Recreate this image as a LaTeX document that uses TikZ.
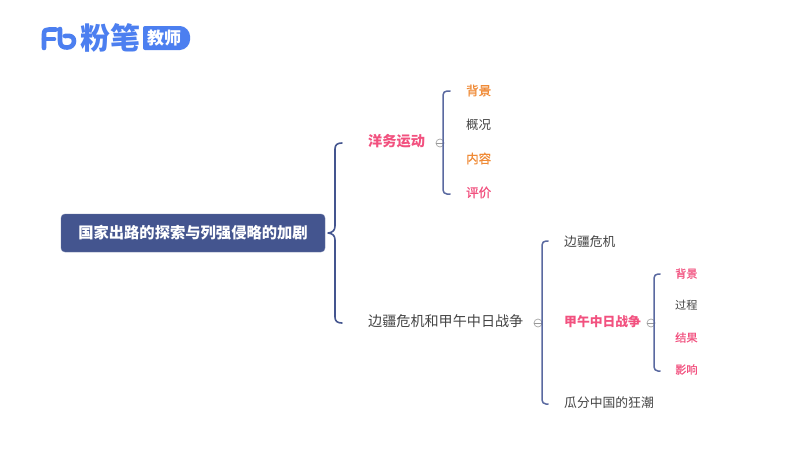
\documentclass[tikz,border=0pt]{standalone}
\usepackage{fontspec}
\setmainfont{Noto Sans CJK SC}
\newfontfamily\cjk{Noto Sans CJK SC}
\newfontfamily\cjkm[FakeBold=0.7]{Noto Sans CJK SC}
\definecolor{navy}{HTML}{44558F}
\definecolor{brc}{HTML}{5A69A0}
\definecolor{pinkc}{HTML}{F2517F}
\definecolor{orangec}{HTML}{F08A35}
\definecolor{darkc}{HTML}{444444}
\definecolor{logoc}{HTML}{4C7FF0}
\tikzset{
  x=1pt,y=-1pt,
  txt/.style={inner sep=0pt,anchor=west,font=\cjk\fontsize{#1}{#1}\selectfont},
  txtm/.style={inner sep=0pt,anchor=west,font=\cjkm\fontsize{#1}{#1}\selectfont},
  txtb/.style={inner sep=0pt,anchor=west,font=\cjk\bfseries\fontsize{#1}{#1}\selectfont},
  brace/.style={draw=brc,line width=1.5pt,line cap=round,rounded corners=4pt},
  rootbrace/.style={draw=navy,line width=1.6pt,line cap=round},
  fold/.style={circle,draw=gray!70,fill=white,line width=0.7pt,minimum size=8pt,inner sep=0pt},
  foldbar/.style={draw=gray!80,line width=0.6pt},
  logostroke/.style={draw=logoc,line width=4.6pt,line cap=round,line join=round},
}
\begin{document}
\begin{tikzpicture}
\useasboundingbox (0,0) rectangle (800,450);
\fill[white] (0,0) rectangle (800,450);
% logo
\draw[logostroke] (44,48) -- (44,34) .. controls (44,30) and (46,29.5) .. (49,29.5) -- (56,29.5);
\draw[logostroke] (44,39) -- (54,39);
\draw[logostroke] (60,29) -- (60,41) .. controls (60,46) and (63,47.5) .. (67,47.5) .. controls (71,47.5) and (74,45) .. (74,41) .. controls (74,37) and (71,35) .. (65,36);
\node[inner sep=0pt,text=logoc,font=\cjk\bfseries\fontsize{30}{30}\selectfont] (logotext) at (110,38) {粉笔};
\fill[logoc,rounded corners=2pt] (143,26) -- (178,26) .. controls (186,26) and (190,32) .. (190,38) .. controls (190,44) and (186,50) .. (178,50) -- (143,50) -- cycle;
\node[inner sep=0pt,text=white,font=\cjk\bfseries\fontsize{17}{17}\selectfont] (logotag) at (164,38) {教师};
% root
\node[fill=navy,draw=navy!80!white,rounded corners=4pt,minimum width=264pt,minimum height=38pt,inner sep=0pt,text=white,font=\cjk\bfseries\fontsize{15.3}{15.3}\selectfont] (root) at (193,233) {国家出路的探索与列强侵略的加剧};
% level 1
\node[txtb=14.2,text=pinkc] (yw) at (368,141.5) {洋务运动};
\node[txt=14.1,text=darkc] (bj) at (368,321.5) {边疆危机和甲午中日战争};
% yangwu leaves
\node[txtm=12.5,text=orangec] (a1) at (466,90.5) {背景};
\node[txt=12.5,text=darkc] (a2) at (466,124.5) {概况};
\node[txtm=12.5,text=orangec] (a3) at (466,158.5) {内容};
\node[txtm=12.5,text=pinkc] (a4) at (466,192.5) {评价};
% level 2
\node[txt=12.8,text=darkc] (b1) at (564,241.5) {边疆危机};
\node[txtb=12.8,text=pinkc] (b2) at (564,321.5) {甲午中日战争};
\node[txt=12.8,text=darkc] (b3) at (564,402.5) {瓜分中国的狂潮};
% level 3
\node[txtm=11.2,text=pinkc] (c1) at (675,273.5) {背景};
\node[txt=11.2,text=darkc] (c2) at (675,305.5) {过程};
\node[txtm=11.2,text=pinkc] (c3) at (675,337.5) {结果};
\node[txtm=11.2,text=pinkc] (c4) at (675,369.5) {影响};
% main brace
\coordinate (mt) at (342,143);
\coordinate (mb) at (342,323);
\coordinate (mtip) at ([xshift=3pt]root.east);
\draw[rootbrace] (mt) .. controls (337,143) and (335,145) .. (335,149) -- (335,226) .. controls (335,230) and (333,232.5) .. (mtip);
\draw[rootbrace] (mb) .. controls (337,323) and (335,321) .. (335,317) -- (335,240) .. controls (335,236) and (333,233.5) .. (mtip);
% fold markers
\node[fold] (f1) at (440,143) {};
\draw[foldbar] (f1.west) -- (f1.east);
\node[fold] (f2) at (538,323) {};
\draw[foldbar] (f2.west) -- (f2.east);
\node[fold] (f3) at (651,323) {};
\draw[foldbar] (f3.west) -- (f3.east);
% child braces
\draw[brace] (450,91) -- (443,91) -- (443,194) -- (450,194);
\draw[brace] (548,241) -- (542,241) -- (542,404) -- (548,404);
\draw[brace] (660,274) -- (654,274) -- (654,371) -- (660,371);
\end{tikzpicture}
\end{document}
